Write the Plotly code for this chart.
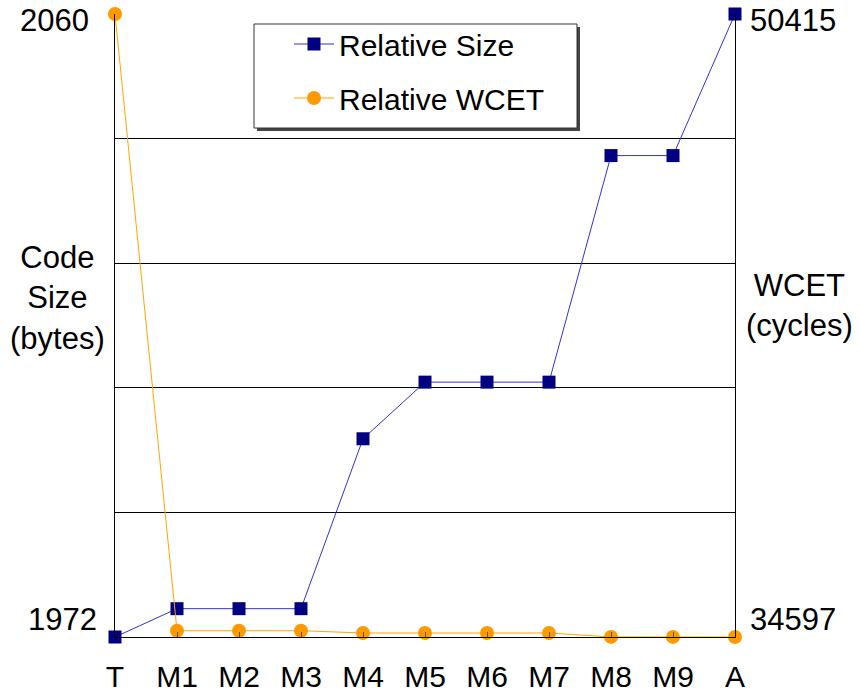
import plotly.graph_objects as go

categories = ["T", "M1", "M2", "M3", "M4", "M5", "M6", "M7", "M8", "M9", "A"]
code_size = [1972, 1976, 1976, 1976, 2000, 2008, 2008, 2008, 2040, 2040, 2060]
wcet = [50415, 34757, 34757, 34757, 34698, 34698, 34698, 34698, 34600, 34600, 34597]

size_min, size_max = 1972, 2060
wcet_min, wcet_max = 34597, 50415
n_grid = 5

xs = list(range(len(categories)))
FONT = "Liberation Sans, Arial, sans-serif"

size_ticks = [size_min + (size_max - size_min) * k / n_grid for k in range(n_grid + 1)]

# plot area in pixels: x 115..735, y 14..637
L, R, T, B = 115, 735, 14, 637
W, H = R - L, B - T


def px(xp):
    return (xp - L) / W


def py(yp):
    return (B - yp) / H


fig = go.Figure()
fig.add_trace(go.Scatter(
    x=xs, y=code_size, name="Relative Size", mode="lines+markers",
    line=dict(color="#3333CC", width=1),
    marker=dict(symbol="square", size=13, color="#000080"),
    cliponaxis=False, legendgroup="a", yaxis="y"))
fig.add_trace(go.Scatter(
    x=xs, y=wcet, name="Relative WCET", mode="lines+markers",
    line=dict(color="#FFA500", width=1),
    marker=dict(symbol="circle", size=14, color="#FF9900"),
    cliponaxis=False, legendgroup="b", yaxis="y2"))

annotations = [
    dict(text="Code<br>Size<br>(bytes)", xref="paper", yref="paper",
         x=px(57), y=py(298), showarrow=False, xanchor="center", yanchor="middle",
         font=dict(size=31)),
    dict(text="WCET<br>(cycles)", xref="paper", yref="paper",
         x=px(800), y=py(305), showarrow=False, xanchor="center", yanchor="middle",
         font=dict(size=31)),
    # y-axis end labels
    dict(text=str(size_max), xref="paper", yref="y", x=0, y=size_max, xshift=-24, yshift=-6,
         xanchor="right", yanchor="middle", showarrow=False, font=dict(size=31)),
    dict(text=str(size_min), xref="paper", yref="y", x=0, y=size_min, xshift=-16, yshift=18,
         xanchor="right", yanchor="middle", showarrow=False, font=dict(size=31)),
    dict(text=str(wcet_max), xref="paper", yref="y2", x=1, y=wcet_max, xshift=13, yshift=-6,
         xanchor="left", yanchor="middle", showarrow=False, font=dict(size=31)),
    dict(text=str(wcet_min), xref="paper", yref="y2", x=1, y=wcet_min, xshift=13, yshift=18,
         xanchor="left", yanchor="middle", showarrow=False, font=dict(size=31)),
]

shapes = [
    # legend shadow
    dict(type="rect", xref="paper", yref="paper",
         x0=px(257), x1=px(580), y0=py(131), y1=py(27),
         fillcolor="#444444", line=dict(width=0), layer="below"),
    # legend box
    dict(type="rect", xref="paper", yref="paper",
         x0=px(254), x1=px(577), y0=py(128), y1=py(24),
         fillcolor="white", line=dict(width=1, color="#333333"), layer="below"),
]

fig.update_layout(
    width=860, height=693,
    margin=dict(l=L, r=860 - R, t=T, b=693 - B, autoexpand=False),
    paper_bgcolor="white", plot_bgcolor="white",
    font=dict(family=FONT, size=30, color="black"),
    showlegend=True,
    legend=dict(x=px(289), y=py(18), xanchor="left", yanchor="top",
                bgcolor="rgba(0,0,0,0)", borderwidth=0,
                font=dict(size=30), tracegroupgap=12, itemwidth=40),
    xaxis=dict(range=[0, len(categories) - 1], tickvals=xs, ticktext=categories,
               showgrid=False, zeroline=False, showline=True, linecolor="black",
               linewidth=1, ticks="inside", ticklen=5, tickcolor="#555",
               ticklabelstandoff=13, tickfont=dict(size=30), automargin=False),
    yaxis=dict(range=[size_min, size_max], tickvals=size_ticks, showticklabels=False,
               showgrid=True, gridcolor="black", gridwidth=1, zeroline=False,
               showline=True, linecolor="black", linewidth=1, ticks="", automargin=False),
    yaxis2=dict(range=[wcet_min, wcet_max], overlaying="y", side="right",
                showticklabels=False, showgrid=False, zeroline=False, showline=True,
                linecolor="black", linewidth=1, ticks="", automargin=False),
    annotations=annotations,
    shapes=shapes,
)

fig.write_html("out.html")
